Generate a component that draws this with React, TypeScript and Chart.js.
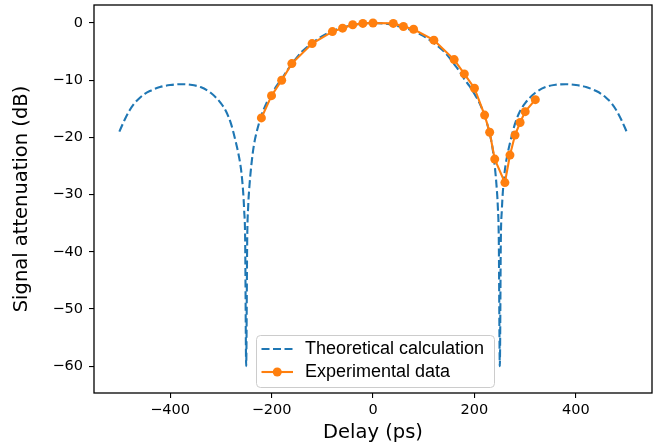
import React, { useEffect, useRef } from "react";
import { Chart, registerables } from "chart.js";

Chart.register(...registerables);

// Theoretical curve (delay in ps, attenuation in dB)
const theoX = [
  -500, -490, -480, -470, -460, -450, -440, -420, -400, -380, -360, -340, -320, -300, -290, -280, -270, -265, -260, -256,
  -254, -252, -250, -248, -246, -244, -240, -235, -230, -220, -210, -200, -190, -180, -170, -160, -150, -140, -120, -100,
  -80, -60, -40, -20, 0, 20, 40, 60, 80, 100, 120, 140, 150, 160, 170, 180, 190, 200, 210, 220, 230, 235, 240, 244, 246,
  248, 250, 252, 254, 256, 260, 265, 270, 280, 290, 300, 320, 340, 360, 380, 400, 420, 440, 450, 460, 470, 480, 490, 500,
];
const theoY = [
  -19.0, -17.0, -15.3, -14.0, -13.1, -12.4, -11.9, -11.2, -10.85, -10.7, -10.8, -11.2, -12.2, -14.0, -15.4, -17.6, -21.0,
  -23.0, -25.7, -29.5, -32.7, -38.0, -60.0, -38.0, -32.0, -29.0, -25.0, -21.5, -19.3, -16.2, -14.0, -12.4, -11.0, -9.8,
  -8.4, -7.2, -6.0, -5.0, -3.5, -2.3, -1.4, -0.8, -0.35, -0.08, 0, -0.08, -0.35, -0.8, -1.4, -2.3, -3.5, -5.0, -6.0, -7.2,
  -8.4, -9.8, -11.0, -12.4, -14.0, -16.2, -19.3, -21.5, -25.0, -29.0, -32.0, -38.0, -60.0, -38.0, -32.7, -29.5, -25.7,
  -23.0, -21.0, -17.6, -15.4, -14.0, -12.2, -11.2, -10.8, -10.7, -10.85, -11.2, -11.9, -12.4, -13.1, -14.0, -15.3, -17.0,
  -19.0,
];

// Experimental data
const expX = [
  -220, -200, -180, -160, -120, -80, -60, -40, -20, 0, 40, 60, 80, 120, 160, 180, 200, 220, 230, 240, 260, 270, 280, 290,
  300, 320,
];
const expY = [
  -16.6, -12.7, -10.0, -7.1, -3.6, -1.5, -0.9, -0.3, -0.07, 0, -0.07, -0.6, -1.1, -3.0, -6.4, -8.9, -11.4, -16.1, -19.1,
  -23.8, -27.9, -23.1, -19.6, -17.4, -15.5, -13.4,
];

const xTicks = [-400, -200, 0, 200, 400];
const yTicks = [0, -10, -20, -30, -40, -50, -60];
const seriesLabels = ["Theoretical calculation", "Experimental data"];
const xTitle = "Delay (ps)";
const yTitle = "Signal attenuation (dB)";

const BLUE = "#1f77b4";
const ORANGE = "#ff7f0e";
const TICK_FONT = { family: "'DejaVu Sans'", size: 14.5 };
const TITLE_FONT = { family: "'DejaVu Sans'", size: 19.5, lineHeight: 1.2 };

const fmt = (v: number) => (v < 0 ? "\u2212" + Math.abs(v) : String(v));

const framePlugin = {
  id: "frame",
  afterDraw(chart: any) {
    const { ctx, chartArea: ca } = chart;
    ctx.save();
    ctx.strokeStyle = "#000";
    ctx.lineWidth = 1.3;
    ctx.strokeRect(ca.left, ca.top, ca.right - ca.left, ca.bottom - ca.top);

    // legend
    const ds = chart.data.datasets;
    const bw = 238;
    const bh = 52;
    const bx = (ca.left + ca.right) / 2 - bw / 2 + 2;
    const by = ca.bottom - 6 - bh;
    ctx.beginPath();
    (ctx as any).roundRect(bx + 0.5, by + 0.5, bw, bh, 4);
    ctx.fillStyle = "rgba(255,255,255,0.8)";
    ctx.fill();
    ctx.strokeStyle = "#cccccc";
    ctx.lineWidth = 1;
    ctx.stroke();

    const rows = [by + 14, by + 37];
    const hx0 = bx + 5.5;
    const hx1 = bx + 37;
    ctx.font = "18px 'Liberation Sans', Arial, sans-serif";
    ctx.textBaseline = "middle";
    ctx.textAlign = "left";
    ds.forEach((d: any, i: number) => {
      const y = rows[i];
      ctx.beginPath();
      ctx.strokeStyle = d.borderColor;
      ctx.lineWidth = d.borderWidth;
      ctx.setLineDash(d.borderDash || []);
      ctx.moveTo(hx0, y);
      ctx.lineTo(hx1, y);
      ctx.stroke();
      ctx.setLineDash([]);
      if (d.pointRadius > 0) {
        ctx.beginPath();
        ctx.arc((hx0 + hx1) / 2, y, d.pointRadius, 0, Math.PI * 2);
        ctx.fillStyle = d.pointBackgroundColor;
        ctx.fill();
      }
      ctx.fillStyle = "#000";
      ctx.fillText(d.label, bx + 49, y + 0.5);
    });
    ctx.restore();
  },
};

export default function App() {
  const ref = useRef<HTMLCanvasElement>(null);
  useEffect(() => {
    if (!ref.current) return;
    const chart = new Chart(ref.current, {
      type: "line",
      data: {
        datasets: [
          {
            label: seriesLabels[0],
            data: theoX.map((x, i) => ({ x, y: theoY[i] })),
            borderColor: BLUE,
            backgroundColor: BLUE,
            borderWidth: 2.1,
            borderDash: [8, 3.5],
            pointRadius: 0,
            pointBackgroundColor: BLUE,
            tension: 0.4,
            cubicInterpolationMode: "monotone",
            order: 2,
          } as any,
          {
            label: seriesLabels[1],
            data: expX.map((x, i) => ({ x, y: expY[i] })),
            borderColor: ORANGE,
            backgroundColor: ORANGE,
            borderWidth: 2.1,
            pointRadius: 4.5,
            pointBorderWidth: 0,
            pointBackgroundColor: ORANGE,
            pointBorderColor: ORANGE,
            tension: 0,
            order: 1,
          } as any,
        ],
      },
      options: {
        animation: false,
        responsive: false,
        devicePixelRatio: 1,
        layout: { padding: { left: 0, right: 8, top: 5, bottom: 0 } },
        plugins: { legend: { display: false }, tooltip: { enabled: false } },
        scales: {
          x: {
            type: "linear",
            min: -550,
            max: 550,
            afterBuildTicks: (s: any) => {
              s.ticks = xTicks.map((v) => ({ value: v }));
            },
            afterFit: (s: any) => {
              s.height = 53;
              s.paddingLeft = 0;
              s.paddingRight = 0;
            },
            grid: { display: true, drawOnChartArea: false, drawTicks: true, tickLength: 5, color: "#000", lineWidth: 1.1 },
            border: { display: false },
            ticks: {
              font: TICK_FONT,
              color: "#000",
              padding: 4,
              maxRotation: 0,
              autoSkip: false,
              callback: (v: any) => fmt(Number(v)),
            },
            title: { display: true, text: xTitle, font: TITLE_FONT, color: "#000", padding: { top: 0, bottom: 1 } },
          },
          y: {
            type: "linear",
            min: -64.7,
            max: 3.15,
            afterBuildTicks: (s: any) => {
              s.ticks = yTicks.map((v) => ({ value: v }));
            },
            afterFit: (s: any) => {
              s.width = 94;
              s.paddingTop = 0;
              s.paddingBottom = 0;
            },
            grid: { display: true, drawOnChartArea: false, drawTicks: true, tickLength: 5, color: "#000", lineWidth: 1.1 },
            border: { display: false },
            ticks: {
              font: TICK_FONT,
              color: "#000",
              padding: 6,
              autoSkip: false,
              callback: (v: any) => fmt(Number(v)),
            },
            title: { display: true, text: yTitle, font: TITLE_FONT, color: "#000", padding: { top: 10, bottom: 0 } },
          },
        },
      },
      plugins: [framePlugin],
    });
    return () => chart.destroy();
  }, []);

  return (
    <div style={{ position: "fixed", left: 0, top: 0, width: 660, height: 446, background: "#fff" }}>
      <canvas ref={ref} width={660} height={446} style={{ width: 660, height: 446 }} />
    </div>
  );
}
